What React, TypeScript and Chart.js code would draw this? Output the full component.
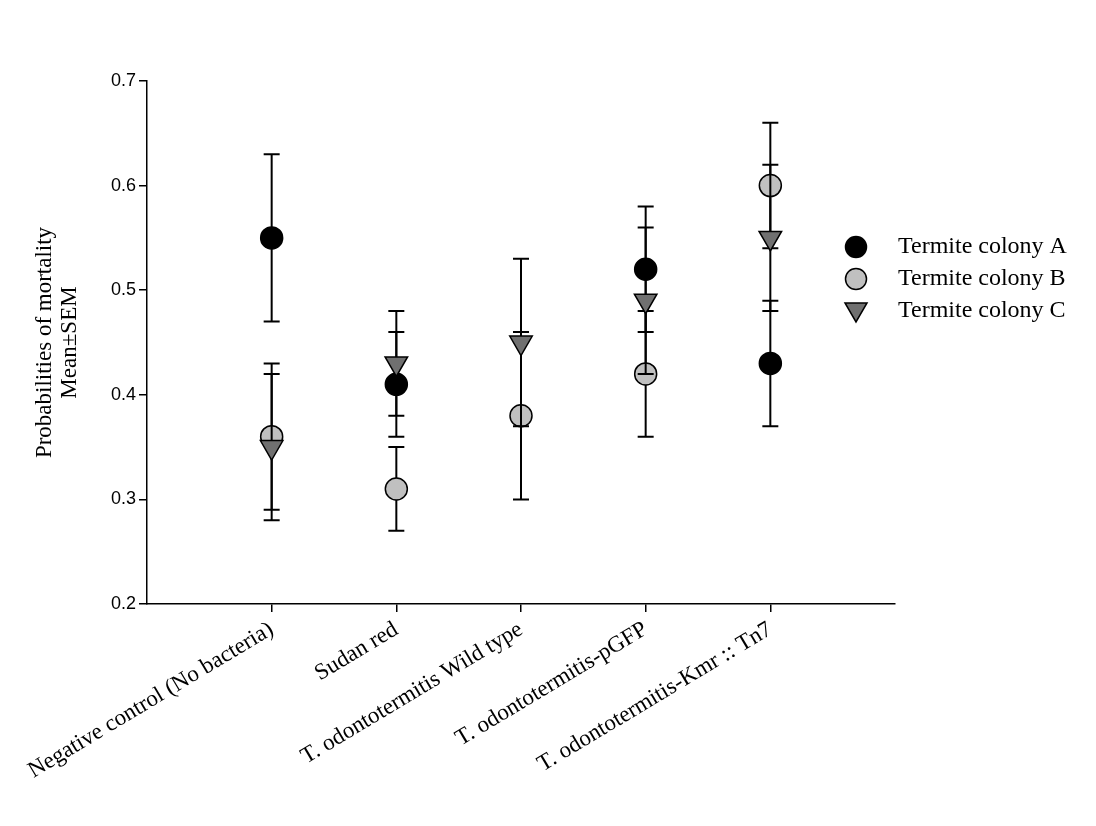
import React, { useEffect, useRef } from "react";
import { Chart, registerables } from "chart.js";
Chart.register(...registerables);

const categories = ["Negative control (No bacteria)", "Sudan red", "T. odontotermitis Wild type", "T. odontotermitis-pGFP", "T. odontotermitis-Kmr :: Tn7"];
const seriesNames = ["Termite colony A", "Termite colony B", "Termite colony C"];
const meanA = [0.55, 0.41, null, 0.52, 0.43];
const semA = [0.08, 0.05, null, 0.06, 0.06];
const meanB = [0.36, 0.31, 0.38, 0.42, 0.60];
const semB = [0.07, 0.04, 0.08, 0.06, 0.06];
const meanC = [0.35, 0.43, 0.45, 0.49, 0.55];
const semC = [0.07, 0.05, 0.08, 0.07, 0.07];
const yTicks = [0.2, 0.3, 0.4, 0.5, 0.6, 0.7];

const means = [meanA, meanB, meanC];
const sems = [semA, semB, semC];
const fills = ["#000000", "#c0c0c0", "#707070"];
const styles: any[] = ["circle", "circle", "triangle"];

export default function App() {
  const ref = useRef<HTMLCanvasElement>(null);
  useEffect(() => {
    document.body.style.margin = "0";
    const errPlugin = {
      id: "err",
      beforeDatasetDraw(chart: any, args: any) {
        const i = args.index;
        const ctx = chart.ctx, xs = chart.scales.x, ys = chart.scales.y;
        ctx.save();
        ctx.strokeStyle = "#000";
        ctx.lineWidth = 2;
        means[i].forEach((m: any, k: number) => {
          if (m == null) return;
          const s = sems[i][k] as number;
          const x = xs.getPixelForValue(k + 1);
          const t = ys.getPixelForValue(m + s), b = ys.getPixelForValue(m - s);
          ctx.beginPath();
          ctx.moveTo(x, t); ctx.lineTo(x, b);
          ctx.moveTo(x - 8, t); ctx.lineTo(x + 8, t);
          ctx.moveTo(x - 8, b); ctx.lineTo(x + 8, b);
          ctx.stroke();
        });
        ctx.restore();
      },
      afterDraw(chart: any) {
        const ctx = chart.ctx;
        ctx.save();
        ctx.font = "24px 'Liberation Serif'";
        ctx.textBaseline = "middle";
        seriesNames.forEach((n, i) => {
          const y = 247 + i * 32, x = 856;
          ctx.fillStyle = fills[i];
          ctx.strokeStyle = "#000";
          ctx.lineWidth = 1.5;
          ctx.beginPath();
          if (i < 2) ctx.arc(x, y, 10.5, 0, Math.PI * 2);
          else { ctx.moveTo(x - 11, y - 8); ctx.lineTo(x + 11, y - 8); ctx.lineTo(x, y + 11); ctx.closePath(); }
          ctx.fill(); ctx.stroke();
          ctx.fillStyle = "#000";
          ctx.fillText(n, 898, y);
        });
        ctx.restore();
      },
    };
    const chart = new Chart(ref.current!, {
      type: "scatter",
      data: {
        datasets: means.map((m, i) => ({
          label: seriesNames[i],
          data: m.map((v, k) => ({ x: k + 1, y: v as any })),
          pointStyle: styles[i],
          rotation: i === 2 ? 180 : 0,
          pointRadius: i === 2 ? 13 : 11,
          backgroundColor: fills[i],
          borderColor: "#000",
          borderWidth: 1.5,
          order: 3 - i,
        })),
      },
      options: {
        animation: false,
        responsive: false,
        layout: { padding: { left: 32, right: 201, top: 81, bottom: 0 } },
        plugins: { legend: { display: false }, tooltip: { enabled: false } },
        scales: {
          x: {
            type: "linear", min: 0, max: 6,
            afterFit: (s: any) => { s.height = 222; },
            afterBuildTicks: (s: any) => { s.ticks = [1, 2, 3, 4, 5].map((v) => ({ value: v })); },
            border: { color: "#000", width: 1.5 },
            grid: { drawOnChartArea: false, color: "#000", tickLength: 8, lineWidth: 1.5 },
            ticks: {
              color: "#000", font: { family: "'Liberation Serif'", size: 23 },
              maxRotation: 31, minRotation: 31, autoSkip: false, padding: 4,
              callback: (v: any) => categories[v - 1] ?? "",
            },
          },
          y: {
            min: 0.2, max: 0.7,
            afterFit: (s: any) => { s.width = 115; },
            afterBuildTicks: (s: any) => { s.ticks = yTicks.map((v) => ({ value: v })); },
            border: { color: "#000", width: 1.5 },
            grid: { drawOnChartArea: false, color: "#000", tickLength: 8, lineWidth: 1.5 },
            ticks: { color: "#000", font: { family: "'Liberation Sans'", size: 18 }, callback: (v: any) => Number(v).toFixed(1) },
            title: {
              display: true, text: ["Probabilities of mortality", "Mean±SEM"], color: "#000",
              font: { family: "'Liberation Serif'", size: 23, lineHeight: 1.1 }, padding: { top: 0, bottom: 6 },
            },
          },
        },
      },
      plugins: [errPlugin],
    });
    return () => chart.destroy();
  }, []);
  return <canvas ref={ref} width={1096} height={826} style={{ display: "block" }} />;
}
